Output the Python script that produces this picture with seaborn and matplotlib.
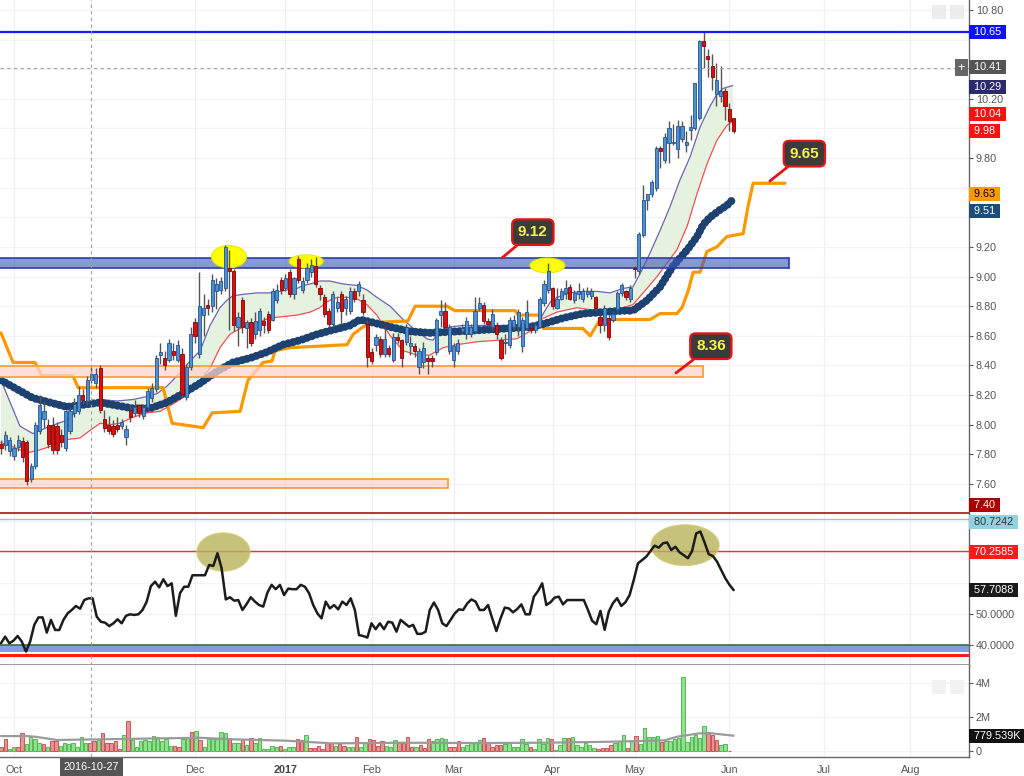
import numpy as np
import pandas as pd
import matplotlib
matplotlib.use("Agg")
import matplotlib.pyplot as plt
import matplotlib.transforms as mtransforms
from matplotlib.patches import Ellipse, Rectangle
import seaborn as sns
from pandas.tseries.offsets import CustomBusinessDay

# ---------------- data ----------------
start_day = "2016-09-28"
market_holidays = ["2016-11-24", "2016-12-26", "2017-01-02", "2017-01-16",
                   "2017-02-20", "2017-04-14", "2017-05-29", "2017-07-04"]
month_starts = ["2016-10-01", "2016-12-01", "2017-01-01", "2017-02-01", "2017-03-01",
                "2017-04-01", "2017-05-01", "2017-06-01", "2017-07-01", "2017-08-01"]
month_labels = ["Oct", "Dec", "2017", "Feb", "Mar", "Apr", "May", "Jun", "Jul", "Aug"]
cursor_date = "2016-10-27"

opens = [7.87, 7.86, 7.82, 7.79, 7.85, 7.89, 7.88, 7.63, 7.72, 7.96, 8.04, 8.00, 8.00, 7.99, 7.93, 7.84, 7.96, 8.08, 8.09, 8.20,
         8.16, 8.30, 8.28, 8.38, 8.04, 8.00, 7.99, 8.00, 7.99, 7.92, 8.10, 8.08, 8.13, 8.06, 8.12, 8.18, 8.24, 8.47, 8.45, 8.44,
         8.50, 8.44, 8.48, 8.19, 8.39, 8.69, 8.48, 8.74, 8.81, 8.80, 8.90, 8.91, 8.92, 9.06, 9.04, 8.66, 8.84, 8.65, 8.69, 8.61,
         8.64, 8.70, 8.75, 8.71, 8.84, 8.98, 8.92, 9.03, 8.88, 9.12, 8.91, 8.98, 9.03, 9.07, 8.92, 8.86, 8.77, 8.68, 8.79, 8.88,
         8.79, 8.77, 8.90, 8.90, 8.84, 8.68, 8.49, 8.54, 8.58, 8.48, 8.52, 8.44, 8.59, 8.57, 8.56, 8.53, 8.53, 8.39, 8.42, 8.45,
         8.45, 8.49, 8.74, 8.77, 8.50, 8.44, 8.50, 8.63, 8.61, 8.61, 8.63, 8.79, 8.81, 8.70, 8.66, 8.67, 8.57, 8.55, 8.54, 8.66,
         8.66, 8.53, 8.65, 8.65, 8.64, 8.66, 8.82, 8.91, 8.92, 8.79, 8.85, 8.89, 8.93, 8.84, 8.88, 8.85, 8.88, 8.87, 8.86, 8.73,
         8.67, 8.72, 8.71, 8.78, 8.89, 8.90, 8.85, 9.06, 9.04, 9.28, 9.52, 9.56, 9.60, 9.87, 9.79, 9.90, 9.90, 9.86, 9.93, 9.89,
         9.99, 10.00, 10.07, 10.59, 10.49, 10.42, 10.23, 10.22, 10.25, 10.13, 10.07]
highs = [7.90, 7.96, 7.92, 7.87, 7.93, 7.92, 7.90, 7.74, 8.02, 8.20, 8.16, 8.04, 8.05, 8.02, 7.97, 8.10, 8.12, 8.18, 8.26, 8.24,
         8.33, 8.39, 8.38, 8.40, 8.10, 8.06, 8.03, 8.05, 8.04, 8.00, 8.13, 8.17, 8.14, 8.14, 8.25, 8.28, 8.47, 8.55, 8.50, 8.58,
         8.55, 8.57, 8.52, 8.41, 8.66, 8.72, 9.03, 8.88, 8.85, 9.02, 8.99, 9.00, 9.21, 9.18, 9.05, 8.76, 8.86, 8.71, 8.72, 8.76,
         8.79, 8.73, 8.77, 8.92, 8.95, 9.00, 9.02, 9.05, 9.00, 9.14, 9.00, 9.09, 9.12, 9.13, 8.94, 8.88, 8.79, 8.90, 8.86, 8.90,
         8.87, 8.93, 8.92, 8.97, 8.88, 8.71, 8.52, 8.61, 8.60, 8.66, 8.54, 8.62, 8.62, 8.58, 8.68, 8.60, 8.55, 8.52, 8.56, 8.47,
         8.47, 8.72, 8.84, 8.83, 8.68, 8.55, 8.58, 8.68, 8.73, 8.68, 8.86, 8.86, 8.83, 8.72, 8.78, 8.69, 8.59, 8.61, 8.73, 8.74,
         8.78, 8.73, 8.84, 8.67, 8.69, 8.86, 8.98, 9.09, 8.93, 8.92, 8.92, 8.98, 8.95, 8.91, 8.96, 8.92, 8.93, 8.92, 8.87, 8.74,
         8.81, 8.74, 8.77, 8.90, 8.96, 8.91, 8.94, 9.07, 9.30, 9.62, 9.56, 9.65, 9.88, 9.88, 9.97, 10.05, 10.03, 10.06, 10.05, 9.98,
         10.09, 10.31, 10.60, 10.65, 10.54, 10.50, 10.44, 10.42, 10.27, 10.17, 10.07]
lows = [7.80, 7.83, 7.79, 7.76, 7.82, 7.75, 7.59, 7.61, 7.70, 7.94, 7.98, 7.84, 7.80, 7.80, 7.85, 7.82, 7.94, 8.05, 8.07, 8.14,
        8.13, 8.28, 8.25, 8.08, 7.95, 7.94, 7.92, 7.95, 7.97, 7.86, 8.02, 8.06, 8.05, 8.04, 8.10, 8.15, 8.22, 8.41, 8.37, 8.42,
        8.44, 8.42, 8.19, 8.17, 8.37, 8.55, 8.45, 8.60, 8.74, 8.76, 8.78, 8.88, 8.90, 8.64, 8.63, 8.53, 8.62, 8.52, 8.53, 8.58,
        8.60, 8.62, 8.62, 8.70, 8.82, 8.88, 8.90, 8.86, 8.85, 8.96, 8.89, 8.96, 9.00, 8.93, 8.84, 8.73, 8.66, 8.66, 8.76, 8.68,
        8.74, 8.75, 8.83, 8.87, 8.74, 8.39, 8.41, 8.50, 8.46, 8.46, 8.46, 8.42, 8.55, 8.39, 8.54, 8.47, 8.46, 8.34, 8.38, 8.34,
        8.39, 8.47, 8.66, 8.65, 8.48, 8.39, 8.48, 8.61, 8.58, 8.59, 8.62, 8.77, 8.68, 8.66, 8.64, 8.58, 8.44, 8.48, 8.52, 8.64,
        8.60, 8.49, 8.64, 8.62, 8.62, 8.65, 8.80, 8.89, 8.78, 8.78, 8.84, 8.85, 8.84, 8.82, 8.85, 8.83, 8.86, 8.85, 8.77, 8.62,
        8.63, 8.57, 8.69, 8.76, 8.87, 8.84, 8.83, 8.99, 9.02, 9.27, 9.45, 9.54, 9.58, 9.73, 9.77, 9.77, 9.89, 9.80, 9.91, 9.84,
        9.92, 9.99, 10.06, 10.41, 10.35, 10.26, 10.15, 10.18, 10.06, 9.98, 9.97]
closes = [7.84, 7.93, 7.90, 7.84, 7.90, 7.78, 7.62, 7.72, 8.00, 8.13, 8.09, 7.87, 7.83, 7.83, 7.88, 8.09, 8.09, 8.14, 8.20, 8.17,
          8.30, 8.34, 8.34, 8.10, 7.98, 7.96, 7.94, 7.97, 8.02, 7.97, 8.05, 8.12, 8.08, 8.12, 8.23, 8.25, 8.45, 8.49, 8.40, 8.55,
          8.47, 8.54, 8.21, 8.39, 8.61, 8.60, 8.80, 8.79, 8.79, 8.98, 8.95, 8.97, 9.20, 9.04, 8.67, 8.73, 8.66, 8.69, 8.55, 8.70,
          8.77, 8.67, 8.64, 8.90, 8.91, 8.91, 8.99, 8.88, 8.99, 8.98, 8.97, 9.06, 9.08, 8.95, 8.88, 8.75, 8.68, 8.88, 8.83, 8.77,
          8.85, 8.90, 8.85, 8.95, 8.76, 8.46, 8.43, 8.59, 8.48, 8.58, 8.48, 8.59, 8.57, 8.45, 8.66, 8.55, 8.50, 8.50, 8.52, 8.43,
          8.43, 8.71, 8.77, 8.66, 8.66, 8.53, 8.55, 8.65, 8.70, 8.66, 8.77, 8.82, 8.70, 8.68, 8.75, 8.61, 8.45, 8.56, 8.71, 8.71,
          8.76, 8.71, 8.76, 8.64, 8.67, 8.85, 8.95, 9.04, 8.80, 8.85, 8.90, 8.92, 8.85, 8.89, 8.90, 8.90, 8.90, 8.90, 8.79, 8.67,
          8.79, 8.59, 8.75, 8.89, 8.94, 8.86, 8.92, 9.05, 9.29, 9.52, 9.56, 9.64, 9.87, 9.85, 9.94, 10.00, 9.91, 10.02, 10.02, 9.91,
          10.01, 10.31, 10.59, 10.56, 10.47, 10.35, 10.33, 10.25, 10.15, 10.05, 9.98]

# envelope bands (trading-day index, price)
bb_up_day = [0, 4.4, 7.4, 11.4, 15.3, 18.3, 20.6, 23.0, 26.9, 30.6, 33.9, 36.2, 38.5, 41.5, 43.9, 46.2, 48.5, 50.8, 52.4, 53.8,
             56.1, 59.4, 63.1, 66.4, 68.7, 70.1, 71.7, 74.0, 76.3, 79.4, 82.6, 84.9, 87.2, 90.3, 93.3, 96.5, 98.8, 100.2, 101.9, 104.2,
             107.2, 124.4, 126.0, 127.5, 129.0, 132.0, 135.0, 138.3, 141.3, 144.3, 146.6, 148.3, 150.6, 152.9, 155.2, 157.5, 159.9,
             162.2, 164.5, 166.1, 167.5, 169.8]
bb_up = [8.30, 7.99, 7.94, 7.99, 8.03, 8.11, 8.14, 8.17, 8.16, 8.17, 8.19, 8.21, 8.26, 8.35, 8.43, 8.50, 8.67, 8.79, 8.84, 8.87,
         8.88, 8.89, 8.89, 8.91, 8.92, 8.94, 8.95, 8.97, 8.97, 8.95, 8.94, 8.91, 8.86, 8.80, 8.71, 8.63, 8.58, 8.57, 8.63, 8.66,
         8.67, 8.67, 8.76, 8.83, 8.86, 8.89, 8.90, 8.90, 8.89, 8.92, 8.93, 9.02, 9.16, 9.31, 9.47, 9.65, 9.81, 10.01, 10.15, 10.23,
         10.27, 10.29]
bb_lo_day = [0, 2.8, 6.0, 9.0, 12.1, 15.3, 18.3, 20.6, 23.0, 25.3, 27.6, 30.6, 33.9, 36.9, 39.9, 43.2, 46.2, 48.5, 50.8, 53.1,
             55.5, 58.5, 62.4, 65.4, 68.7, 71.7, 74.0, 75.6, 78.0, 80.3, 82.6, 84.9, 87.2, 90.3, 93.3, 96.5, 99.5, 102.6, 105.8, 110.4,
             115.1, 119.7, 122.7, 125.1, 129.0, 133.6, 138.3, 141.3, 144.3, 146.6, 149.0, 152.2, 154.5, 156.8, 159.2, 161.5, 163.8,
             166.1, 168.4, 169.8]
bb_lo = [7.88, 7.85, 7.81, 7.83, 7.86, 7.90, 7.91, 7.96, 8.01, 8.00, 8.01, 8.05, 8.08, 8.09, 8.14, 8.20, 8.30, 8.38, 8.52, 8.61,
         8.65, 8.68, 8.72, 8.73, 8.74, 8.76, 8.79, 8.83, 8.86, 8.86, 8.85, 8.81, 8.74, 8.60, 8.50, 8.47, 8.47, 8.52, 8.54, 8.56,
         8.57, 8.58, 8.63, 8.71, 8.76, 8.79, 8.77, 8.77, 8.79, 8.81, 8.89, 9.00, 9.09, 9.18, 9.34, 9.56, 9.76, 9.92, 10.02, 10.05]

# slow moving average (dotted)
ma_day = [0, 7.4, 15.3, 23.0, 30.6, 34.6, 38.5, 42.2, 46.2, 50.1, 53.8, 57.8, 61.7, 65.4, 69.4, 73.3, 77.0, 81.0, 83.3, 86.3,
          90.3, 94.9, 99.5, 105.8, 111.8, 117.4, 122.7, 125.8, 130.4, 135.0, 139.7, 144.3, 146.6, 149.9, 152.9, 155.9, 159.2,
          161.5, 162.9, 164.5, 166.8, 168.4, 169.8]
ma = [8.30, 8.18, 8.12, 8.15, 8.11, 8.11, 8.15, 8.21, 8.28, 8.36, 8.42, 8.45, 8.49, 8.54, 8.57, 8.61, 8.64, 8.67, 8.71, 8.69,
      8.66, 8.63, 8.62, 8.63, 8.64, 8.65, 8.66, 8.68, 8.72, 8.75, 8.76, 8.77, 8.77, 8.84, 8.93, 9.07, 9.18, 9.27, 9.35, 9.40,
      9.45, 9.48, 9.52]

# orange step line
or_day = [0, 2.8, 7.9, 9.5, 16.7, 17.9, 37.6, 39.7, 46.9, 49.0, 55.5, 57.3, 58.5, 60.8, 62.9, 63.6, 67.1, 80.3, 81.7, 84.0,
          86.1, 94.4, 96.1, 103.5, 105.3, 119.3, 120.0, 125.1, 125.8, 135.0, 136.7, 139.0, 150.6, 152.9, 156.8, 158.0, 159.4,
          160.6, 162.2, 163.8, 166.1, 168.4, 172.2, 173.3, 174.5, 181.9]
or_val = [8.62, 8.42, 8.42, 8.33, 8.33, 8.25, 8.25, 8.01, 7.98, 8.08, 8.09, 8.30, 8.34, 8.42, 8.43, 8.50, 8.52, 8.54, 8.61, 8.66,
          8.69, 8.70, 8.80, 8.80, 8.77, 8.77, 8.74, 8.74, 8.65, 8.65, 8.60, 8.71, 8.71, 8.75, 8.75, 8.79, 8.90, 9.03, 9.03, 9.17,
          9.20, 9.27, 9.29, 9.47, 9.63, 9.63]

# RSI (roughly one reading per session)
rsi = [40.55, 42.7, 40.55, 41.4, 42.9, 41.1, 37.9, 41.1, 46.5, 48.9, 48.9, 44.0, 48.1, 44.85, 44.85, 48.1, 50.2, 51.3, 52.6, 51.7,
       54.5, 55.05, 55.05, 49.15, 47.5, 47.2, 46.1, 47.0, 48.3, 47.0, 49.4, 49.9, 49.7, 49.9, 51.3, 54.0, 59.0, 60.4, 58.6, 61.2,
       59.0, 59.9, 49.4, 56.7, 58.8, 58.8, 62.5, 62.5, 62.5, 62.5, 65.8, 65.5, 69.6, 64.7, 54.7, 55.4, 54.3, 54.5, 51.3, 53.2,
       55.4, 54.0, 52.9, 52.4, 56.9, 59.4, 58.0, 59.4, 56.1, 58.2, 58.0, 58.0, 59.4, 58.8, 56.7, 52.9, 50.2, 48.6, 54.0, 51.8,
       52.9, 51.5, 54.0, 52.9, 55.05, 51.3, 43.2, 42.9, 42.4, 47.0, 45.1, 47.0, 45.1, 47.5, 47.2, 44.3, 48.1, 47.0, 45.9, 46.5,
       43.6, 43.6, 44.3, 51.3, 53.7, 51.3, 47.0, 46.1, 48.1, 50.2, 51.5, 51.3, 53.4, 54.7,
       54.0, 51.3, 51.3, 52.9, 48.6, 44.5, 48.6, 52.06, 51.8, 50.55, 51.6, 53.1, 49.9, 49.9, 55.6, 57.4, 59.9, 52.9, 53.8, 55.3,
       55.6, 53.1, 54.5, 54.5, 54.5, 54.5, 54.5, 51.3, 47.8, 46.7, 51.0, 44.9, 50.8, 53.5, 55.1, 52.6, 53.8, 56.1, 61.0, 66.35,
       67.4, 68.5, 70.3, 72.05, 71.4, 72.8, 73.1, 70.65, 71.7, 69.9, 69.0, 68.0, 70.3, 76.0, 76.6, 73.1, 69.3, 68.7, 66.9, 64.2,
       61.5, 59.4, 57.7]

# volume in millions, and whether the bar is an up (1) or down (0) session
volume = [0.24, 0.67, 0.08, 0.24, 0.20, 1.02, 0.39, 0.79, 0.67, 0.43, 0.39, 0.20, 0.59, 0.59, 0.28, 0.47, 0.39, 0.43, 0.24, 0.82,
          0.47, 0.43, 0.59, 0.63, 1.02, 0.43, 0.43, 0.59, 0.08, 0.92, 1.75, 0.63, 0.24, 0.59, 0.63, 0.59, 0.86, 0.82, 0.59, 0.67,
          0.28, 0.28, 0.24, 0.67, 0.79, 1.12, 1.18, 0.63, 0.20, 0.67, 0.67, 0.67, 1.12, 1.06, 0.73, 0.43, 0.43, 0.67, 0.34, 0.73,
          0.43, 0.73, 0.12, 0.08, 0.28, 0.24, 0.28, 0.08, 0.20, 0.24, 0.67, 0.63, 0.92, 0.14, 0.14, 0.28, 0.08, 0.43, 0.43, 0.28,
          0.39, 0.28, 0.24, 0.24, 0.79, 0.24, 0.43, 0.67, 0.63, 0.28, 0.59, 0.28, 0.24, 0.63, 0.43, 0.43, 0.82, 0.24, 0.20, 0.34,
          0.14, 0.67, 0.59, 0.71, 0.73, 0.71, 0.24, 0.24, 0.59, 0.24, 0.34, 0.43, 0.43, 0.63,
          0.73, 0.43, 0.24, 0.34, 0.34, 0.38, 0.53, 0.24, 0.24, 0.69, 0.38, 0.24, 0.10, 0.69, 0.38, 0.73, 0.67, 0.04, 0.34, 0.77,
          0.73, 0.83, 0.34, 0.24, 0.43, 0.34, 0.14, 0.10, 0.14, 0.14, 0.34, 0.43, 0.57, 0.92, 0.14, 0.57, 0.87, 0.38, 1.32, 0.83,
          0.83, 0.87, 0.53, 0.57, 0.57, 0.69, 0.77, 4.35, 0.53, 0.83, 0.92, 0.73, 1.47, 1.12, 0.92, 0.63, 0.34, 0.38, 0.01]
vol_up = [0, 0, 1, 1, 0, 0, 1, 1, 1, 1, 0, 1, 0, 0, 1, 1, 1, 1, 1, 1,
          1, 0, 0, 1, 0, 0, 0, 0, 0, 1, 0, 1, 1, 1, 1, 1, 1, 1, 1, 1,
          1, 0, 0, 1, 1, 0, 1, 0, 1, 1, 1, 1, 1, 1, 0, 1, 1, 0, 1, 0,
          1, 1, 1, 1, 1, 1, 0, 1, 1, 1, 0, 0, 1, 0, 0, 0, 0, 0, 0, 1,
          0, 0, 1, 1, 0, 1, 1, 0, 0, 0, 0, 1, 1, 1, 0, 0, 0, 0, 1, 0,
          0, 0, 1, 1, 1, 1, 0, 0, 0, 1, 1, 1, 1, 1,
          0, 0, 0, 0, 0, 1, 1, 1, 1, 1, 1, 0, 1, 1, 1, 1, 0, 1, 1, 1,
          0, 1, 1, 1, 1, 1, 1, 0, 0, 0, 0, 1, 1, 1, 0, 1, 0, 1, 1, 1,
          1, 1, 0, 1, 1, 1, 1, 1, 1, 1, 1, 1, 1, 0, 0, 0, 1, 1, 0]
vol_ma_day = [0, 6, 8, 13, 23, 46, 54, 66, 77, 93, 111, 126, 142, 154, 157, 162, 165, 170]
vol_ma = [0.86, 0.86, 0.82, 0.63, 0.67, 0.76, 0.67, 0.59, 0.43, 0.47, 0.45, 0.47, 0.53, 0.61, 0.83, 1.02, 1.02, 0.88]

# horizontal levels / zones
resist_line = 10.65
cursor_price = 10.41
zone_blue = (9.056, 9.124, 182.8)
zone_mid = (8.32, 8.395, 162.9)
zone_low = (7.57, 7.633, 103.7)
callouts = [("9.12", (116.2, 9.125), (123.4, 9.30)),
            ("9.65", (178.4, 9.645), (186.4, 9.83)),
            ("8.36", (156.6, 8.349), (164.7, 8.53))]
price_marks = [(52.9, 9.134, 8.1, 0.150), (70.8, 9.103, 7.9, 0.088), (126.8, 9.075, 8.1, 0.100)]
rsi_marks = [(51.6, 70.0, 12.3, 12.3), (158.7, 72.2, 15.8, 13.1)]
rsi_upper, rsi_ob = 80.7242, 70.2585

price_ticks = [7.6, 7.8, 8.0, 8.2, 8.4, 8.6, 8.8, 9.0, 9.2, 9.8, 10.2, 10.8]   # visible ones
price_grid = [7.4, 7.6, 7.8, 8.0, 8.2, 8.4, 8.6, 8.8, 9.0, 9.2, 9.4, 9.6, 9.8, 10.0, 10.2, 10.4, 10.6, 10.8]
rsi_ticks = [40, 50]
rsi_grid = [40, 50, 60, 70, 80]
vol_ticks = [0, 2, 4]
vol_tick_labels = ["0", "2M", "4M"]

price_tags = [("10.65", 10.65, "#1111ff", "white"), ("10.41", 10.415, "#555555", "white"),
              ("10.29", 10.283, "#2b2a6b", "white"), ("10.04", 10.10, "#ff1111", "white"),
              ("9.98", 9.985, "#ff1111", "white"), ("9.63", 9.556, "#ff9900", "black"),
              ("9.51", 9.443, "#1d4d78", "white"), ("7.40", 7.46, "#a80000", "white")]
rsi_tags = [("80.7242", 79.6, "#8fd3e3", "#333333"), ("70.2585", 70.0, "#ff1a1a", "white"),
            ("57.7088", 57.6, "#1a1a1a", "white")]
vol_tags = [("779.539K", 0.85, "#111111", "white")]

# ---------------- figure ----------------
sns.set_theme(style="white")
plt.rcParams["font.family"] = ["Liberation Sans", "DejaVu Sans"]
W, H = 1024, 776
fig = plt.figure(figsize=(W / 100, H / 100), dpi=100)


def rect(top, bottom, left=0, right=969):
    return [left / W, 1 - bottom / H, (right - left) / W, (bottom - top) / H]


axp = fig.add_axes(rect(0, 514))
axr = fig.add_axes(rect(514, 665), sharex=axp)
axv = fig.add_axes(rect(665, 757), sharex=axp)

cal = pd.date_range(start_day, periods=260, freq=CustomBusinessDay(holidays=market_holidays))
tick_pos = [int(np.argmax(cal >= pd.Timestamp(m))) for m in month_starts]
cursor_day = int(cal.get_loc(pd.Timestamp(cursor_date)))

o = np.array(opens); h = np.array(highs); l = np.array(lows); c = np.array(closes)
xd = np.arange(len(o))
up = c >= o

TXT = "#555555"
for ax in (axp, axr, axv):
    ax.set_facecolor("white")
    for s in ax.spines.values():
        s.set_visible(False)
    ax.spines["right"].set_visible(True)
    ax.spines["right"].set_color("#666666")
    ax.spines["right"].set_linewidth(1.0)
    ax.yaxis.tick_right()
    ax.tick_params(axis="y", colors=TXT, labelsize=7.8, length=3, width=0.8, pad=2, direction="out")
    ax.tick_params(axis="x", length=0)
    ax.set_xticks(tick_pos)
    for tp in tick_pos:
        ax.axvline(tp, color="#f0f0f0", lw=0.9, zorder=0)
    ax.axvline(cursor_day, color="#a0a0a0", lw=0.8, ls=(0, (3, 3)), zorder=8)
    ax.set_xlim(-0.23, 224.6)

# ---- price panel ----
axp.set_ylim(7.397, 10.8675)
axp.set_yticks(price_ticks)
axp.set_yticklabels([f"{v:.2f}" for v in price_ticks])
for v in price_grid:
    axp.axhline(v, color="#f2f2f2", lw=0.9, zorder=0)
axp.tick_params(axis="x", labelbottom=False)

poly_x = list(bb_up_day) + list(bb_lo_day[::-1])
poly_y = list(bb_up) + list(bb_lo[::-1])
axp.fill(poly_x, poly_y, color="#e3f1dc", alpha=0.9, lw=0, zorder=1)
sns.lineplot(x=bb_up_day, y=bb_up, ax=axp, color="#6d63b8", lw=0.9, zorder=2)
sns.lineplot(x=bb_lo_day, y=bb_lo, ax=axp, color="#f05050", lw=0.9, zorder=2)

sns.lineplot(x=or_day, y=or_val, ax=axp, color="#ff9800", lw=2.3, sort=False, zorder=3)

axp.plot(ma_day, ma, color="#1d4170", lw=5.8, linestyle=(0, (0.01, 0.6)),
         dash_capstyle="round", zorder=4)

for (lo, hi, xe), fc, ec, al in [(zone_blue, "#3f58bd", "#2a3fa8", 0.62),
                                 (zone_mid, "#fbd3cf", "#ff9a30", 0.75),
                                 (zone_low, "#fbd3cf", "#ff9a30", 0.75)]:
    axp.add_patch(Rectangle((-0.23, lo), xe + 0.23, hi - lo, facecolor=fc, edgecolor="none", alpha=al, zorder=5))
    axp.plot([-0.23, xe], [lo, lo], color=ec, lw=1.2, zorder=5)
    axp.plot([-0.23, xe], [hi, hi], color=ec, lw=1.2, zorder=5)
    axp.plot([xe, xe], [lo, hi], color=ec, lw=1.2, zorder=5)

for cx, cy, w, hh in price_marks:
    axp.add_patch(Ellipse((cx, cy), w, hh, facecolor="#ffff00", edgecolor="#e8e800", lw=0.8, zorder=5.5))

axp.vlines(xd, l, h, color="#555555", lw=1.0, zorder=6)
body = np.maximum(np.abs(c - o), 0.008)
bot = np.minimum(o, c)
axp.bar(xd[up], body[up], bottom=bot[up], width=0.74, color="#4f8ed0", edgecolor="#22558e", lw=0.6, zorder=7)
axp.bar(xd[~up], body[~up], bottom=bot[~up], width=0.74, color="#d41010", edgecolor="#8b0000", lw=0.6, zorder=7)

axp.axhline(resist_line, color="#1a1aff", lw=1.6, zorder=6)
axp.axhline(cursor_price, color="#a0a0a0", lw=0.8, ls=(0, (3, 3)), zorder=6)
axp.axhline(7.404, color="#a00000", lw=1.1, zorder=6)

for txt, tip, box in callouts:
    axp.annotate(txt, xy=tip, xytext=box, textcoords="data", ha="center", va="center",
                 fontsize=11, fontweight="bold", color="#f5f54a", zorder=10,
                 bbox=dict(boxstyle="round,pad=0.38,rounding_size=0.35", fc="#3b3b3b", ec="#e31515", lw=1.6),
                 arrowprops=dict(arrowstyle="-", color="#e31515", lw=2.0, shrinkA=0, shrinkB=0))

# ---- RSI panel ----
axr.set_ylim(33.55, 82.26)
axr.set_yticks(rsi_ticks)
axr.set_yticklabels([f"{v:.4f}" for v in rsi_ticks])
for v in rsi_grid:
    axr.axhline(v, color="#f2f2f2", lw=0.9, zorder=0)
axr.tick_params(axis="x", labelbottom=False)
axr.spines["bottom"].set_visible(True)
axr.spines["bottom"].set_color("#8a8a8a")
axr.spines["bottom"].set_linewidth(1.2)
axr.axhline(rsi_upper, color="#7fcfe0", lw=1.0, zorder=2)
axr.axhline(rsi_ob, color="#ff2a2a", lw=1.0, zorder=2)
axr.axhspan(37.6, 39.95, color="#7f9fe0", zorder=2, lw=0)
axr.axhline(40.0, color="#3d6b45", lw=1.2, zorder=2)
axr.axhline(36.9, color="#ff1a1a", lw=2.2, zorder=2)
for cx, cy, w, hh in rsi_marks:
    axr.add_patch(Ellipse((cx, cy), w, hh, facecolor="#b9b35a", edgecolor="#d0ca70", alpha=0.8, lw=1, zorder=2.5))
rsi_x = np.linspace(0, len(o) - 1, len(rsi))
sns.lineplot(x=rsi_x, y=rsi, ax=axr, color="#1c1c1c", lw=1.8, zorder=4)

# ---- volume panel ----
axv.set_ylim(-0.37, 5.04)
axv.set_yticks(vol_ticks)
axv.set_yticklabels(vol_tick_labels)
for v in vol_ticks:
    axv.axhline(v, color="#f2f2f2", lw=0.9, zorder=0)
axv.spines["bottom"].set_visible(True)
axv.spines["bottom"].set_color("#666666")
axv.spines["bottom"].set_linewidth(1.0)
vx = np.linspace(0, len(o) - 2, len(volume))
vu = np.array(vol_up, dtype=bool)
vv = np.array(volume)
axv.bar(vx[vu], vv[vu], width=0.8, color="#8fe08f", edgecolor="#43b043", lw=0.6, zorder=3)
axv.bar(vx[~vu], vv[~vu], width=0.8, color="#e89292", edgecolor="#c04848", lw=0.6, zorder=3)
sns.lineplot(x=vol_ma_day, y=vol_ma, ax=axv, color="#9a9a9a", lw=1.6, zorder=4)
axv.tick_params(axis="x", colors=TXT, labelsize=7.8, length=4, width=0.8, pad=1.5, direction="out")
axv.set_xticklabels(month_labels)
for lab in axv.get_xticklabels():
    if lab.get_text() == "2017":
        lab.set_fontweight("bold")
        lab.set_color("#444444")
axv.text(cursor_day, -0.105, cursor_date, transform=mtransforms.blended_transform_factory(axv.transData, axv.transAxes),
         ha="center", va="center", fontsize=7.8, color="white", zorder=12,
         bbox=dict(boxstyle="square,pad=0.38", fc="#555555", ec="none"), clip_on=False)


def tags(ax, items):
    tr = mtransforms.blended_transform_factory(ax.transAxes, ax.transData)
    for txt, yv, bg, fg in items:
        ax.text(1.0 + 2 / 969, yv, f" {txt} ", transform=tr, ha="left", va="center", fontsize=7.8, color=fg,
                zorder=20, clip_on=False, bbox=dict(boxstyle="square,pad=0.18", fc=bg, ec="none"))


tags(axp, price_tags)
tags(axr, rsi_tags)
tags(axv, vol_tags)

trp = mtransforms.blended_transform_factory(axp.transAxes, axp.transData)
axp.text(961.5 / 969, cursor_price, "+", transform=trp, ha="center", va="center", fontsize=9, color="white",
         zorder=20, bbox=dict(boxstyle="square,pad=0.2", fc="#666666", ec="none"))
for xx in (932, 950):
    axp.add_patch(Rectangle((xx / 969, 1 - 19 / 514), 14 / 969, 14 / 514, transform=axp.transAxes,
                            facecolor="#ececec", edgecolor="none", zorder=20))
    axv.add_patch(Rectangle((xx / 969, (757 - 694) / 92), 14 / 969, 14 / 92, transform=axv.transAxes,
                            facecolor="#f2f2f2", edgecolor="none", zorder=20))

fig.savefig("out.png", dpi=100)
